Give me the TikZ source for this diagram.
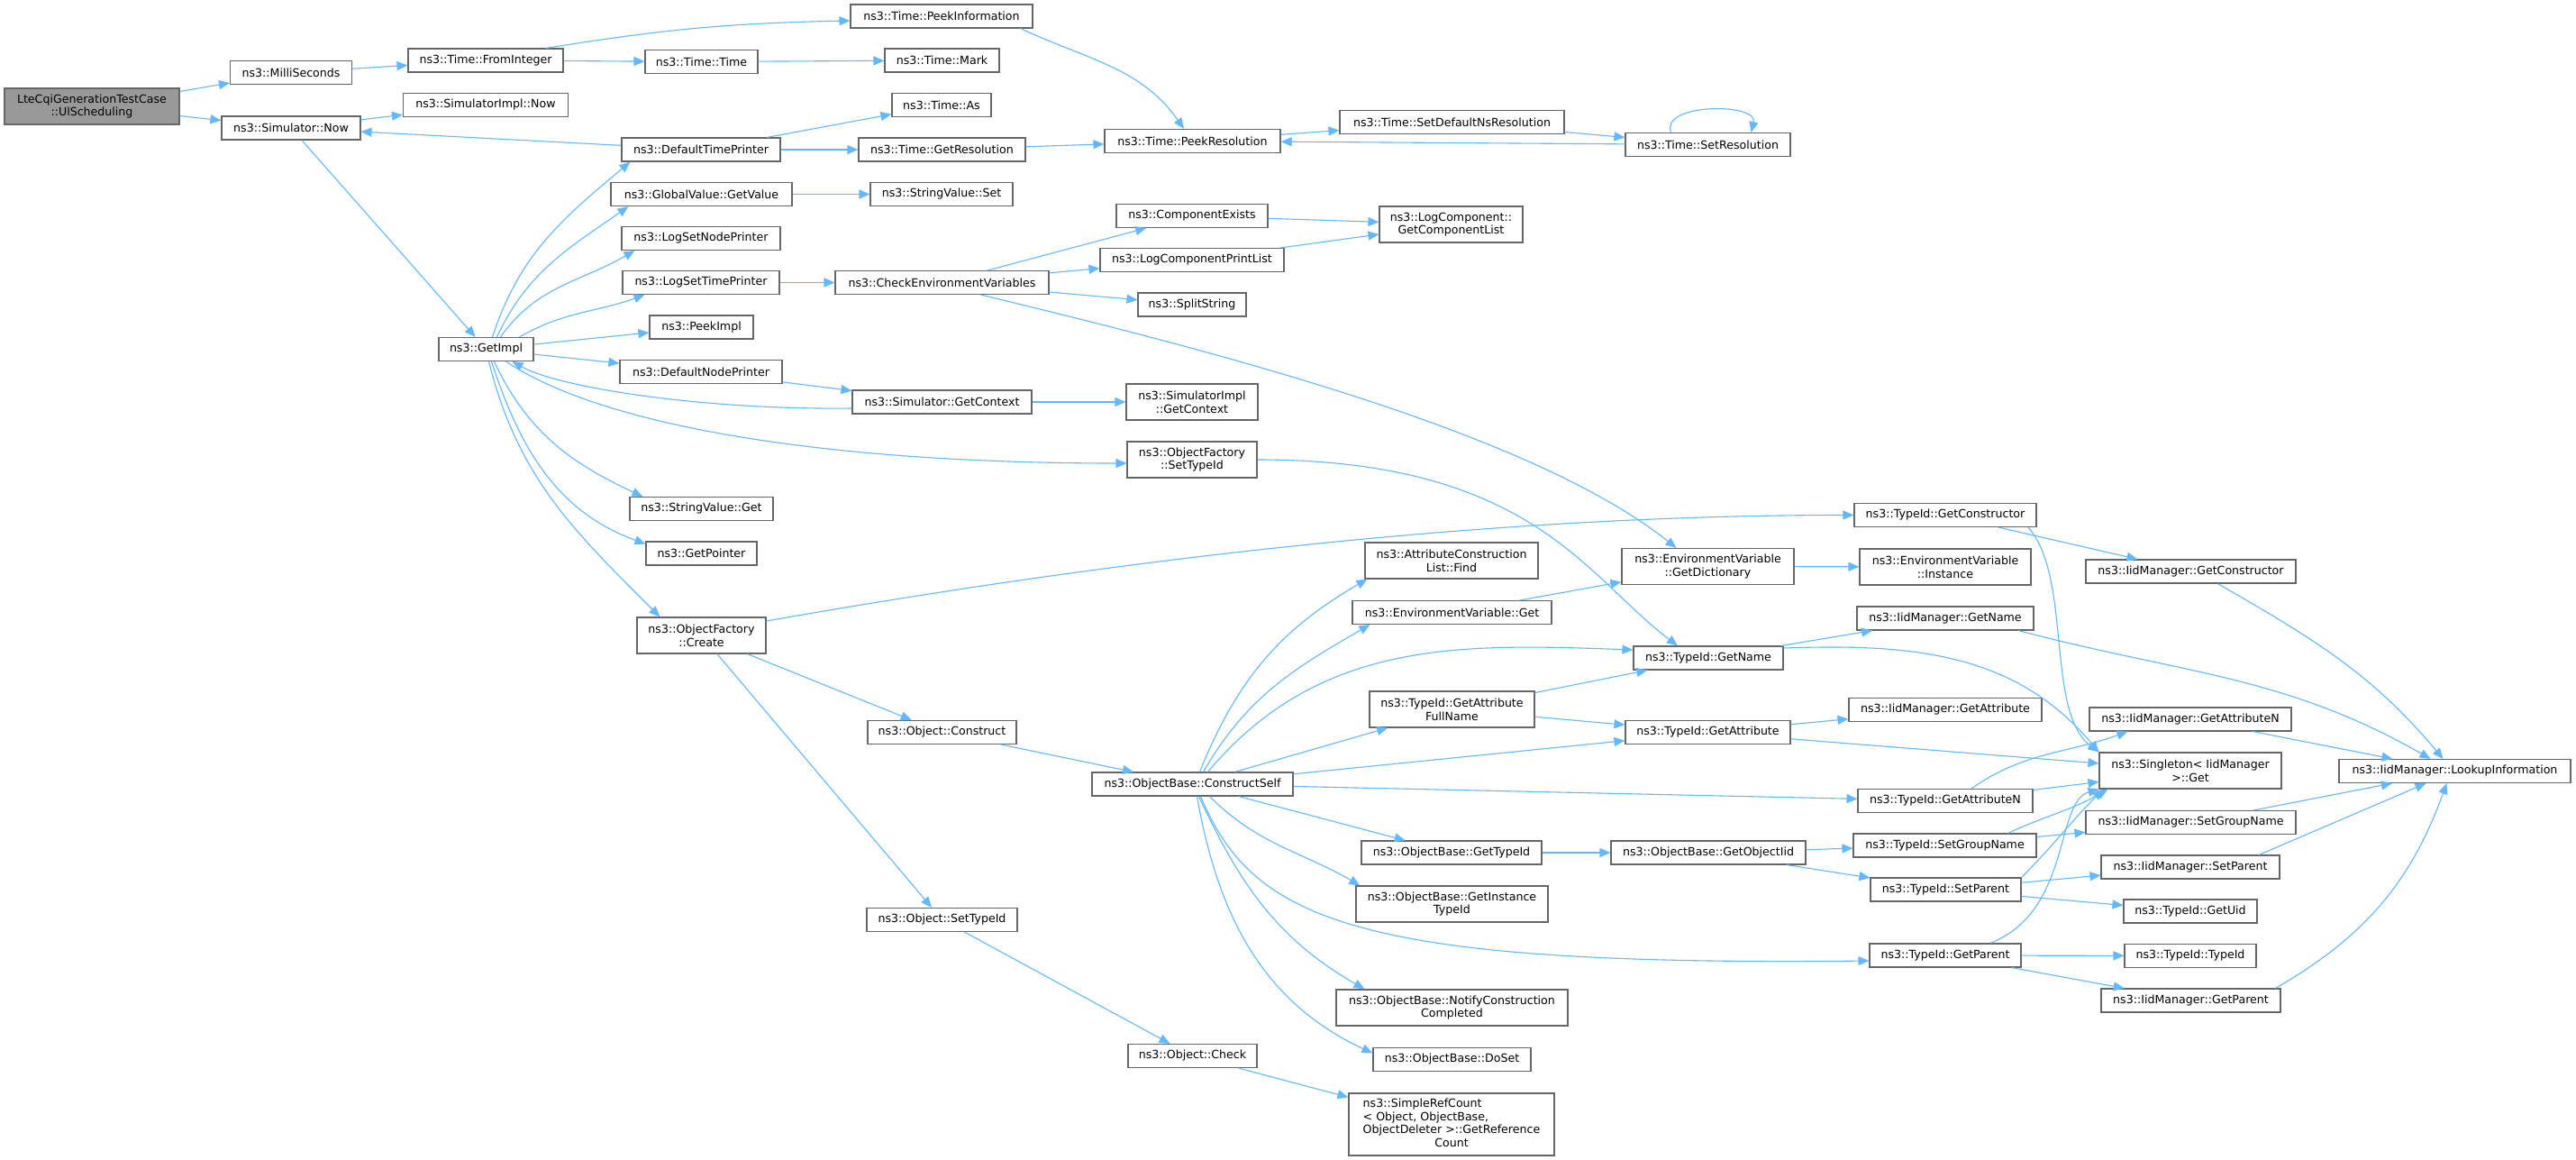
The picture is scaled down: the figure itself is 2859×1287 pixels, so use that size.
\documentclass[tikz,border=0pt]{standalone}
\usepackage{fontspec}
\usepackage{tikz}
\usetikzlibrary{arrows.meta}
\newfontfamily\dvsans{DejaVu Sans}
\newcommand{\dvfont}{\dvsans\fontsize{12.6}{14.7}\selectfont}
\definecolor{edgeblue}{HTML}{63B8FF}
\definecolor{boxgray}{HTML}{666666}
\definecolor{mainfill}{HTML}{999999}
\begin{document}
\begin{tikzpicture}[->, >={Triangle[length=12pt,width=10pt]}, x=1pt, y=1pt,
  fn/.style={draw=boxgray, fill=white, line width=1.1pt, inner sep=0pt, minimum height=26pt, align=center, font=\dvfont},
  two/.style={minimum height=40pt},
  call/.style={draw=edgeblue, line width=1.1pt},
  every edge/.style={call}]
\path[fill=white, use as bounding box] (0,0) rectangle (2859,-1287);
\node[fn, two, fill=mainfill, minimum width=194pt] (LteCqi) at (102,-118) {LteCqiGenerationTestCase\\::UlScheduling};
\node[fn, minimum width=135pt] (MilliSec) at (323,-80.5) {ns3::MilliSeconds};
\node[fn, minimum width=154pt] (SimNow) at (323,-142) {ns3::Simulator::Now};
\node[fn, minimum width=172pt] (FromInt) at (539,-67) {ns3::Time::FromInteger};
\node[fn, minimum width=183pt] (SimImplNow) at (539,-116.5) {ns3::SimulatorImpl::Now};
\node[fn, minimum width=105pt] (GetImpl) at (539.5,-387.5) {ns3::GetImpl};
\node[fn, minimum width=125pt] (TimeTime) at (778.5,-68.5) {ns3::Time::Time};
\node[fn, minimum width=176pt] (DefTimePr) at (778,-166) {ns3::DefaultTimePrinter};
\node[fn, minimum width=201pt] (GVGetValue) at (778.5,-215.5) {ns3::GlobalValue::GetValue};
\node[fn, minimum width=176pt] (LogSetNodePr) at (778,-264.5) {ns3::LogSetNodePrinter};
\node[fn, minimum width=174pt] (LogSetTimePr) at (778,-313.5) {ns3::LogSetTimePrinter};
\node[fn, minimum width=115pt] (PeekImpl) at (778.5,-363) {ns3::PeekImpl};
\node[fn, minimum width=180pt] (DefNodePr) at (778,-412.5) {ns3::DefaultNodePrinter};
\node[fn, minimum width=159pt] (SVGet) at (778.5,-564.5) {ns3::StringValue::Get};
\node[fn, minimum width=123pt] (GetPointer) at (778.5,-614) {ns3::GetPointer};
\node[fn, two, minimum width=143pt] (OFCreate) at (778.5,-705) {ns3::ObjectFactory\\::Create};
\node[fn, minimum width=202pt] (PeekInfo) at (1045,-18) {ns3::Time::PeekInformation};
\node[fn, minimum width=127pt] (TimeMark) at (1045.5,-67) {ns3::Time::Mark};
\node[fn, minimum width=110pt] (TimeAs) at (1045,-116.5) {ns3::Time::As};
\node[fn, minimum width=185pt] (GetRes) at (1045.5,-166) {ns3::Time::GetResolution};
\node[fn, minimum width=158pt] (SVSet) at (1045,-215.5) {ns3::StringValue::Set};
\node[fn, minimum width=237pt] (CheckEnv) at (1045.5,-313.5) {ns3::CheckEnvironmentVariables};
\node[fn, minimum width=199pt] (SimGetCtx) at (1045.5,-446) {ns3::Simulator::GetContext};
\node[fn, minimum width=165pt] (ObjConstruct) at (1045.5,-812.5) {ns3::Object::Construct};
\node[fn, minimum width=167pt] (ObjSetTypeId) at (1045.5,-1020.5) {ns3::Object::SetTypeId};
\node[fn, minimum width=195pt] (PeekRes) at (1323.5,-156.5) {ns3::Time::PeekResolution};
\node[fn, minimum width=168pt] (CompExists) at (1323,-239.5) {ns3::ComponentExists};
\node[fn, minimum width=204pt] (LogCompPrList) at (1323,-288.5) {ns3::LogComponentPrintList};
\node[fn, minimum width=120pt] (SplitString) at (1323,-338) {ns3::SplitString};
\node[fn, two, minimum width=146pt] (SimImplGetCtx) at (1323,-446) {ns3::SimulatorImpl\\::GetContext};
\node[fn, two, minimum width=144pt] (OFSetTypeId) at (1323,-510) {ns3::ObjectFactory\\::SetTypeId};
\node[fn, minimum width=223pt] (ConstructSelf) at (1323.5,-870) {ns3::ObjectBase::ConstructSelf};
\node[fn, minimum width=143pt] (ObjCheck) at (1323.5,-1171.5) {ns3::Object::Check};
\node[fn, minimum width=249pt] (SetDefNsRes) at (1611.5,-135.5) {ns3::Time::SetDefaultNsResolution};
\node[fn, two, minimum width=159pt] (GetCompList) at (1610.5,-249) {ns3::LogComponent::\\GetComponentList};
\node[fn, two, minimum width=192pt] (ACLFind) at (1611,-622) {ns3::AttributeConstruction\\List::Find};
\node[fn, minimum width=221pt] (EVGet) at (1611.5,-679.5) {ns3::EnvironmentVariable::Get};
\node[fn, two, minimum width=183pt] (GetAttrFull) at (1611.5,-787) {ns3::TypeId::GetAttribute\\FullName};
\node[fn, minimum width=200pt] (OBGetTypeId) at (1611,-946) {ns3::ObjectBase::GetTypeId};
\node[fn, two, minimum width=213pt] (GetInstTypeId) at (1611.5,-1003) {ns3::ObjectBase::GetInstance\\TypeId};
\node[fn, two, minimum width=257pt] (NotifyCC) at (1611.5,-1118) {ns3::ObjectBase::NotifyConstruction\\Completed};
\node[fn, minimum width=175pt] (DoSet) at (1611.5,-1175.5) {ns3::ObjectBase::DoSet};
\node[fn, minimum width=228pt, minimum height=69pt] (SimpleRC) at (1611,-1247.5) {\begin{tabular}{@{}l@{}}ns3::SimpleRefCount\\< Object, ObjectBase,\\\multicolumn{1}{@{}c@{}}{ObjectDeleter >::GetReference}\\\multicolumn{1}{@{}c@{}}{Count}\end{tabular}};
\node[fn, minimum width=183pt] (SetRes) at (1895.5,-160.5) {ns3::Time::SetResolution};
\node[fn, two, minimum width=191pt] (GetDict) at (1895.5,-628.5) {ns3::EnvironmentVariable\\::GetDictionary};
\node[fn, minimum width=166pt] (TIGetName) at (1896,-730) {ns3::TypeId::GetName};
\node[fn, minimum width=183pt] (TIGetAttr) at (1895.5,-812.5) {ns3::TypeId::GetAttribute};
\node[fn, minimum width=216pt] (GetObjIid) at (1896,-946) {ns3::ObjectBase::GetObjectIid};
\node[fn, minimum width=202pt] (TIGetCtor) at (2159,-571.5) {ns3::TypeId::GetConstructor};
\node[fn, two, minimum width=190pt] (EVInstance) at (2159,-629) {ns3::EnvironmentVariable\\::Instance};
\node[fn, minimum width=196pt] (IMGetName) at (2159,-686) {ns3::IidManager::GetName};
\node[fn, minimum width=214pt] (IMGetAttr) at (2159,-787.5) {ns3::IidManager::GetAttribute};
\node[fn, minimum width=194pt] (TIGetAttrN) at (2159,-888.5) {ns3::TypeId::GetAttributeN};
\node[fn, minimum width=203pt] (TISetGroupName) at (2158.5,-938) {ns3::TypeId::SetGroupName};
\node[fn, minimum width=167pt] (TISetParent) at (2159.5,-987) {ns3::TypeId::SetParent};
\node[fn, minimum width=168pt] (TIGetParent) at (2159,-1060) {ns3::TypeId::GetParent};
\node[fn, minimum width=233pt] (IMGetCtor) at (2431.5,-634) {ns3::IidManager::GetConstructor};
\node[fn, minimum width=224pt] (IMGetAttrN) at (2431,-798) {ns3::IidManager::GetAttributeN};
\node[fn, two, minimum width=202pt] (Singleton) at (2431,-855) {ns3::Singleton< IidManager\\>::Get};
\node[fn, minimum width=233pt] (IMSetGroupName) at (2431.5,-912.5) {ns3::IidManager::SetGroupName};
\node[fn, minimum width=198pt] (IMSetParent) at (2431,-962) {ns3::IidManager::SetParent};
\node[fn, minimum width=148pt] (TIGetUid) at (2431,-1011) {ns3::TypeId::GetUid};
\node[fn, minimum width=146pt] (TITypeId) at (2431,-1060.5) {ns3::TypeId::TypeId};
\node[fn, minimum width=199pt] (IMGetParent) at (2431.5,-1110) {ns3::IidManager::GetParent};
\node[fn, minimum width=257pt] (LookupInfo) at (2724.5,-855.5) {ns3::IidManager::LookupInformation};
\path (LteCqi) edge (MilliSec);
\path (LteCqi) edge (SimNow);
\path (MilliSec) edge (FromInt);
\path ([xshift=67pt]FromInt.north) edge [bend left=4] ([yshift=-5pt]PeekInfo.west);
\path (FromInt) edge (TimeTime);
\path (TimeTime) edge (TimeMark);
\path ([xshift=-14pt]PeekInfo.south east) edge [out=-25, in=125] (PeekRes);
\path (SimNow) edge (SimImplNow);
\path (SimNow) edge (GetImpl);
\path (DefTimePr) edge (SimNow);
\path (DefTimePr) edge (TimeAs);
\path (DefTimePr) edge (GetRes);
\path (GetRes) edge (PeekRes);
\path (PeekRes) edge (SetDefNsRes);
\path (SetDefNsRes) edge (SetRes);
\path (SetRes) edge (PeekRes);
\draw[call] ([xshift=-41pt]SetRes.north) .. controls +(-12pt,33pt) and +(8pt,33pt) .. ([xshift=48pt]SetRes.north);
\path ([xshift=7pt]GetImpl.north) edge [out=72, in=220] ([xshift=10pt]DefTimePr.south west);
\path ([xshift=12pt]GetImpl.north) edge [out=65, in=215] ([xshift=20pt]GVGetValue.south west);
\path ([xshift=16pt]GetImpl.north) edge [out=55, in=210] ([xshift=15pt]LogSetNodePr.south west);
\path ([xshift=37pt]GetImpl.north) edge [out=30, in=200] ([xshift=25pt]LogSetTimePr.south west);
\path (GetImpl) edge (PeekImpl);
\path (GetImpl) edge (DefNodePr);
\path ([xshift=9pt]GetImpl.south) edge [out=-65, in=155] ([xshift=15pt]SVGet.north west);
\path ([xshift=6pt]GetImpl.south) edge [out=-72, in=160] ([yshift=-3pt]GetPointer.north west);
\path ([xshift=3pt]GetImpl.south) edge [out=-76, in=135] ([xshift=26pt]OFCreate.north west);
\draw[call] ([xshift=22pt]GetImpl.south) .. controls (680,-480) and (950,-514) .. ([yshift=-4pt]OFSetTypeId.west);
\draw[call] ([yshift=-7pt]SimGetCtx.west) .. controls (780,-455) and (620,-430) .. ([xshift=29pt]GetImpl.south);
\path (DefNodePr) edge (SimGetCtx);
\path (SimGetCtx) edge (SimImplGetCtx);
\draw[call] ([yshift=16pt]OFCreate.east) .. controls (1300,-610) and (1700,-571.5) .. (TIGetCtor.west);
\path (OFCreate) edge (ObjConstruct);
\path (OFCreate) edge (ObjSetTypeId);
\path (ObjConstruct) edge (ConstructSelf);
\path (ObjSetTypeId) edge (ObjCheck);
\path (ObjCheck) edge (SimpleRC);
\path (LogSetTimePr) edge (CheckEnv);
\path (GVGetValue) edge (SVSet);
\path (CheckEnv) edge (CompExists);
\path (CheckEnv) edge (LogCompPrList);
\path (CheckEnv) edge (SplitString);
\draw[call] ([xshift=43pt]CheckEnv.south) .. controls (1350,-390) and (1700,-480) .. ([xshift=-35pt]GetDict.north);
\path (CompExists) edge (GetCompList);
\path (LogCompPrList) edge (GetCompList);
\draw[call] (OFSetTypeId.east) .. controls (1700,-510) and (1760,-640) .. ([xshift=-34pt]TIGetName.north);
\path (EVGet) edge (GetDict);
\path (GetDict) edge (EVInstance);
\path ([xshift=8pt]ConstructSelf.north) edge [out=68, in=210] ([xshift=3pt]ACLFind.south west);
\path ([xshift=12pt]ConstructSelf.north) edge [out=60, in=210] ([xshift=20pt]EVGet.south west);
\draw[call] ([xshift=17pt]ConstructSelf.north) .. controls (1464,-709.5) and (1620,-714) .. ([yshift=9pt]TIGetName.west);
\path (ConstructSelf) edge (GetAttrFull);
\path (ConstructSelf) edge (TIGetAttr);
\path (ConstructSelf) edge (TIGetAttrN);
\path (ConstructSelf) edge (OBGetTypeId);
\path ([xshift=19pt]ConstructSelf.south) edge [out=-45, in=150] ([xshift=5pt]GetInstTypeId.north west);
\draw[call] ([xshift=9pt]ConstructSelf.south) .. controls (1390,-1020) and (1500,-1072) .. ([yshift=-6pt]TIGetParent.west);
\path ([xshift=7pt]ConstructSelf.south) edge [out=-65, in=150] ([xshift=32pt]NotifyCC.north west);
\path ([xshift=5pt]ConstructSelf.south) edge [out=-80, in=155] ([yshift=7pt]DoSet.west);
\path (OBGetTypeId) edge (GetObjIid);
\path (GetObjIid) edge (TISetGroupName);
\path (GetObjIid) edge (TISetParent);
\path (GetAttrFull) edge (TIGetName);
\path (GetAttrFull) edge (TIGetAttr);
\path (TIGetName) edge (IMGetName);
\path ([yshift=11pt]TIGetName.east) edge [out=2, in=130] (Singleton.north west);
\path (TIGetAttr) edge (IMGetAttr);
\path (TIGetAttr) edge (Singleton);
\path (TIGetCtor) edge (IMGetCtor);
\draw[call] ([xshift=92pt]TIGetCtor.south) .. controls (2300,-640) and (2270,-790) .. (Singleton.north west);
\path ([xshift=30pt]IMGetCtor.south) edge [out=-30, in=130] ([xshift=-13pt]LookupInfo.north);
\draw[call] ([xshift=81pt]IMGetName.south) .. controls (2421,-747.5) and (2535,-749) .. ([xshift=-27pt]LookupInfo.north);
\path (IMGetAttrN) edge (LookupInfo);
\path ([xshift=29pt]TIGetAttrN.north) edge [out=35, in=200] ([xshift=43pt]IMGetAttrN.south west);
\path (TIGetAttrN) edge (Singleton);
\path ([xshift=70pt]TISetGroupName.north) edge [out=25, in=210] ([xshift=10pt]Singleton.south west);
\path (TISetGroupName) edge (IMSetGroupName);
\path (IMSetGroupName) edge (LookupInfo);
\path (TISetParent.north east) edge [out=45, in=225] ([xshift=5pt]Singleton.south west);
\path (TISetParent) edge (IMSetParent);
\path (TISetParent) edge (TIGetUid);
\path ([xshift=76pt]IMSetParent.north) edge ([xshift=-32pt]LookupInfo.south);
\draw[call] ([xshift=50pt]TIGetParent.north) .. controls (2300,-1010) and (2280,-890) .. (Singleton.south west);
\path (TIGetParent) edge (TITypeId);
\path (TIGetParent) edge (IMGetParent);
\path ([xshift=94pt]IMGetParent.north) edge [out=30, in=250] ([xshift=-9pt]LookupInfo.south);
\end{tikzpicture}
\end{document}
